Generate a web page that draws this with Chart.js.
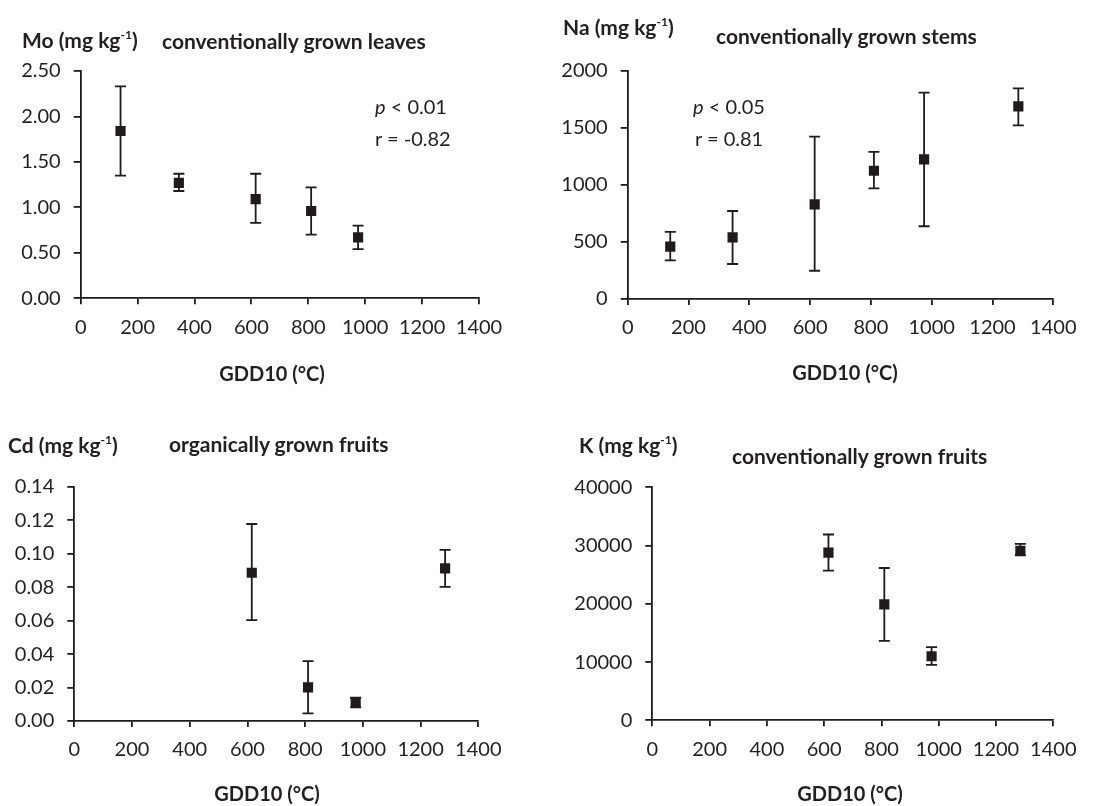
<!DOCTYPE html>
<html>
<head>
<meta charset="utf-8">
<script src="https://cdn.jsdelivr.net/npm/chart.js@4.4.0/dist/chart.umd.min.js"></script>
<style>
  body { margin: 0; background: #fff; }
  #wrap { position: relative; width: 1115px; height: 806px; overflow: hidden; font-family: Lato, "Open Sans", sans-serif; color: #231f20; }
  canvas { position: absolute; }
  .lbl { position: absolute; white-space: nowrap; line-height: 24px; font-size: 21px; }
  .b { font-weight: bold; }
  .ann { font-size: 20px; }
  .gdd { font-size: 20px; }
  .ctr { transform: translateX(-50%); }
  sup { font-size: 12px; vertical-align: 0; position: relative; top: -9px; }
</style>
</head>
<body>
<div id="wrap">
  <canvas id="c1"></canvas>
  <canvas id="c2"></canvas>
  <canvas id="c3"></canvas>
  <canvas id="c4"></canvas>

  <div class="lbl b" style="left:22px;top:28px">Mo (mg kg<sup>-1</sup>)</div>
  <div class="lbl b" style="left:162px;top:29px">conventionally grown leaves</div>
  <div class="lbl ann" style="left:375px;top:94px"><i>p</i> &lt; 0.01</div>
  <div class="lbl ann" style="left:375px;top:126px">r = -0.82</div>
  <div class="lbl b gdd ctr" style="left:272px;top:361px">GDD10 (°C)</div>

  <div class="lbl b" style="left:563px;top:15px">Na (mg kg<sup>-1</sup>)</div>
  <div class="lbl b" style="left:716px;top:24px">conventionally grown stems</div>
  <div class="lbl ann" style="left:693px;top:94px"><i>p</i> &lt; 0.05</div>
  <div class="lbl ann" style="left:695px;top:126px">r = 0.81</div>
  <div class="lbl b gdd ctr" style="left:845px;top:360px">GDD10 (°C)</div>

  <div class="lbl b" style="left:8px;top:433px">Cd (mg kg<sup>-1</sup>)</div>
  <div class="lbl b" style="left:169px;top:432px">organically grown fruits</div>
  <div class="lbl b gdd ctr" style="left:267px;top:781px">GDD10 (°C)</div>

  <div class="lbl b" style="left:579px;top:433px">K (mg kg<sup>-1</sup>)</div>
  <div class="lbl b" style="left:732px;top:444px">conventionally grown fruits</div>
  <div class="lbl b gdd ctr" style="left:850px;top:781px">GDD10 (°C)</div>
</div>

<script>
// GDD10 (°C) of the sampling dates
const gddMo = [140, 345, 615, 810, 975];
const moMean = [1.84, 1.27, 1.09, 0.96, 0.67];
const moUpper = [2.33, 1.37, 1.37, 1.22, 0.80];
const moLower = [1.35, 1.18, 0.83, 0.70, 0.54];

const gddNa = [140, 345, 615, 810, 975, 1285];
const naMean = [460, 540, 830, 1125, 1225, 1690];
const naUpper = [588, 772, 1424, 1290, 1810, 1848];
const naLower = [339, 307, 248, 971, 638, 1523];

const gddCd = [615, 810, 975, 1285];
const cdMean = [0.0886, 0.0201, 0.0112, 0.0912];
const cdUpper = [0.1177, 0.0358, 0.0139, 0.1022];
const cdLower = [0.0603, 0.0046, 0.0082, 0.0801];

const gddK = [615, 810, 975, 1285];
const kMean = [28800, 19900, 11000, 29100];
const kUpper = [31900, 26150, 12550, 30300];
const kLower = [25700, 13650, 9500, 28300];

const xTicks = [0, 200, 400, 600, 800, 1000, 1200, 1400];
const moTicks = [0, 0.5, 1.0, 1.5, 2.0, 2.5];
const naTicks = [0, 500, 1000, 1500, 2000];
const cdTicks = [0, 0.02, 0.04, 0.06, 0.08, 0.10, 0.12, 0.14];
const kTicks = [0, 10000, 20000, 30000, 40000];

const ink = '#1f1b1c';

// error bars, drawn under the square markers
const errorBars = {
    id: 'errorBars',
    beforeDatasetsDraw(chart) {
        const { ctx, scales: { x, y } } = chart;
        const ds = chart.data.datasets[0];
        ctx.save();
        ctx.strokeStyle = ink;
        ctx.lineWidth = 1.8;
        ds.data.forEach((p, i) => {
            const px = x.getPixelForValue(p.x);
            const top = y.getPixelForValue(ds.upper[i]);
            const bot = y.getPixelForValue(ds.lower[i]);
            ctx.beginPath();
            ctx.moveTo(px, top); ctx.lineTo(px, bot);
            ctx.moveTo(px - 5.5, top); ctx.lineTo(px + 5.5, top);
            ctx.moveTo(px - 5.5, bot); ctx.lineTo(px + 5.5, bot);
            ctx.stroke();
        });
        ctx.restore();
    }
};

function makePanel({ id, canvasBox, plot, xs, mean, upper, lower, yTicks, decimals }) {
    const el = document.getElementById(id);
    el.style.left = canvasBox.left + 'px';
    el.style.top = canvasBox.top + 'px';
    el.width = canvasBox.width;
    el.height = canvasBox.height;
    el.style.width = canvasBox.width + 'px';
    el.style.height = canvasBox.height + 'px';

    const yWidth = plot.l - canvasBox.left;
    const xHeight = canvasBox.top + canvasBox.height - plot.b;
    const tickFont = { family: 'Lato, "Open Sans", sans-serif', size: 20 };

    new Chart(el, {
        type: 'scatter',
        data: {
            datasets: [{
                data: xs.map((v, i) => ({ x: v, y: mean[i] })),
                upper: upper,
                lower: lower,
                pointStyle: 'rect',
                pointRadius: 7.2,
                pointHoverRadius: 7.2,
                backgroundColor: ink,
                borderColor: ink,
                borderWidth: 0
            }]
        },
        options: {
            responsive: false,
            animation: false,
            devicePixelRatio: 1,
            layout: {
                padding: {
                    left: 0,
                    top: plot.t - canvasBox.top,
                    right: canvasBox.left + canvasBox.width - plot.r,
                    bottom: 0
                }
            },
            plugins: { legend: { display: false }, tooltip: { enabled: false } },
            scales: {
                x: {
                    type: 'linear',
                    min: 0, max: 1400,
                    afterFit(s) { s.height = xHeight; },
                    afterBuildTicks(s) { s.ticks = xTicks.map(v => ({ value: v })); },
                    border: { display: true, color: ink, width: 1.8 },
                    grid: { drawOnChartArea: false, drawTicks: true, tickLength: 6, color: ink, lineWidth: 1.8 },
                    ticks: { color: '#231f20', font: tickFont, padding: 11, maxRotation: 0, callback: v => String(v) }
                },
                y: {
                    type: 'linear',
                    min: yTicks[0], max: yTicks[yTicks.length - 1],
                    afterFit(s) { s.width = yWidth; },
                    afterBuildTicks(s) { s.ticks = yTicks.map(v => ({ value: v })); },
                    border: { display: true, color: ink, width: 1.8 },
                    grid: { drawOnChartArea: false, drawTicks: true, tickLength: 7, color: ink, lineWidth: 1.8 },
                    ticks: { color: '#231f20', font: tickFont, padding: 13, callback: v => v.toFixed(decimals) }
                }
            }
        },
        plugins: [errorBars]
    });
}

makePanel({ id: 'c1', canvasBox: { left: 0, top: 40, width: 545, height: 360 },
    plot: { l: 80.7, t: 71, r: 479, b: 298.3 },
    xs: gddMo, mean: moMean, upper: moUpper, lower: moLower, yTicks: moTicks, decimals: 2 });

makePanel({ id: 'c2', canvasBox: { left: 545, top: 40, width: 570, height: 360 },
    plot: { l: 627.7, t: 71, r: 1053.3, b: 299 },
    xs: gddNa, mean: naMean, upper: naUpper, lower: naLower, yTicks: naTicks, decimals: 0 });

makePanel({ id: 'c3', canvasBox: { left: 0, top: 460, width: 545, height: 346 },
    plot: { l: 74.3, t: 486.7, r: 478.3, b: 721 },
    xs: gddCd, mean: cdMean, upper: cdUpper, lower: cdLower, yTicks: cdTicks, decimals: 2 });

makePanel({ id: 'c4', canvasBox: { left: 545, top: 460, width: 570, height: 346 },
    plot: { l: 652.3, t: 487.3, r: 1053.3, b: 720.3 },
    xs: gddK, mean: kMean, upper: kUpper, lower: kLower, yTicks: kTicks, decimals: 0 });
</script>
</body>
</html>
